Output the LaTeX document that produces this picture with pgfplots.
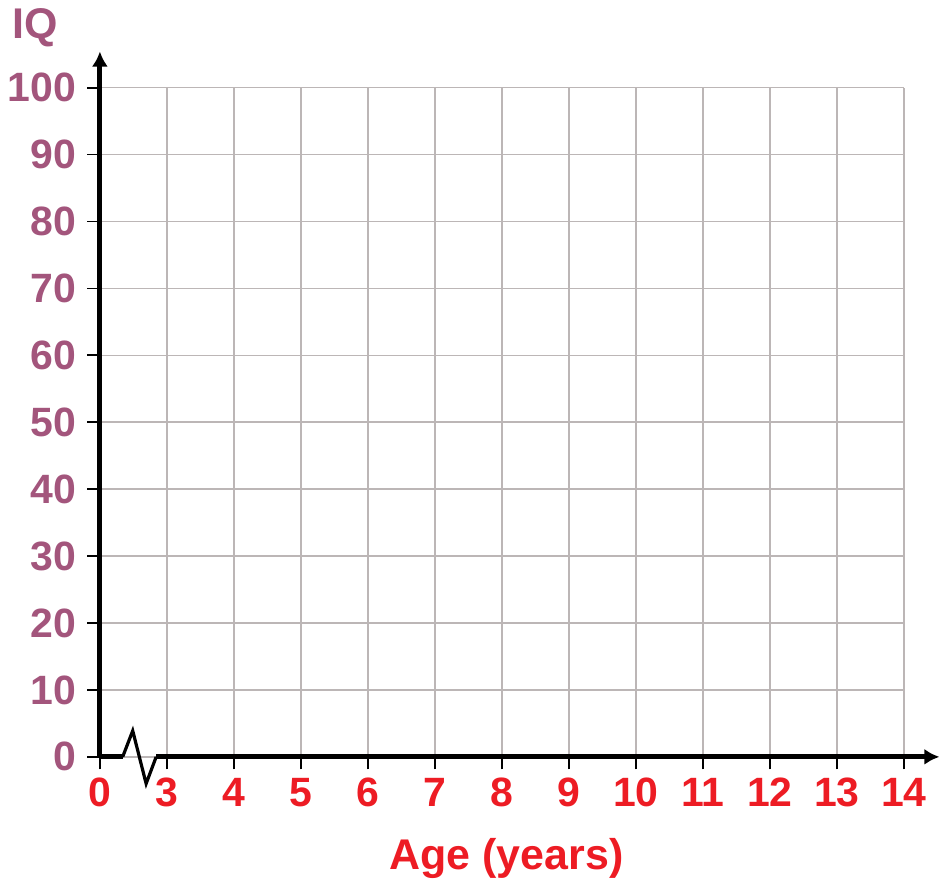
\documentclass[border=0pt]{standalone}
\usepackage{fontspec}
\setmainfont{Liberation Sans}
\usepackage{pgfplots}
\pgfplotsset{compat=1.18}
\usetikzlibrary{arrows.meta}
\definecolor{iqmauve}{HTML}{A3557C}
\definecolor{agered}{HTML}{ED1C24}
\definecolor{gridgray}{HTML}{BCB6B6}
\begin{document}
\begin{tikzpicture}
\begin{axis}[
    x=33.54pt, y=3.35pt,
    xmin=0, xmax=12, ymin=0, ymax=100,
    clip=false,
    axis line style={draw=none},
    xtick={0,...,12},
    xticklabels={0,3,4,5,6,7,8,9,10,11,12,13,14},
    ytick={0,10,...,100},
    xtick pos=bottom, ytick pos=left,
    tick align=outside,
    major tick length=6.3pt,
    tick style={black, line width=0.9pt},
    grid=major,
    major grid style={gridgray, line width=0.8pt},
    /pgf/number format/assume math mode=true,
    ticklabel style={font=\fontsize{20.5}{24}\selectfont\bfseries, inner sep=0pt},
    xticklabel style={agered, yshift=-4pt},
    yticklabel style={iqmauve, xshift=-5.5pt},
]
% bounding frame of the whole picture
\path (axis cs:-1.491,113.1) rectangle (axis cs:12.551,-18.36);
% y axis
\addplot[black, line width=2.6pt, -{Latex[length=7.5pt,width=8pt]}] coordinates {(0,0) (0,105.4)};
% x axis with break
\addplot[black, line width=2.6pt] coordinates {(0,0) (0.34,0)};
\addplot[black, line width=1.6pt, line join=miter] coordinates {(0.34,0) (0.49,3.9) (0.69,-4.0) (0.84,0)};
\addplot[black, line width=2.6pt, -{Latex[length=7.5pt,width=8pt]}] coordinates {(0.84,0) (12.53,0)};
\node[iqmauve, font=\fontsize{21.5}{25}\selectfont\bfseries] at (axis cs:-0.97,109) {IQ};
\node[agered, font=\fontsize{21.5}{25}\selectfont\bfseries] at (axis cs:6.07,-15.2) {Age (years)};
\end{axis}
\end{tikzpicture}
\end{document}
